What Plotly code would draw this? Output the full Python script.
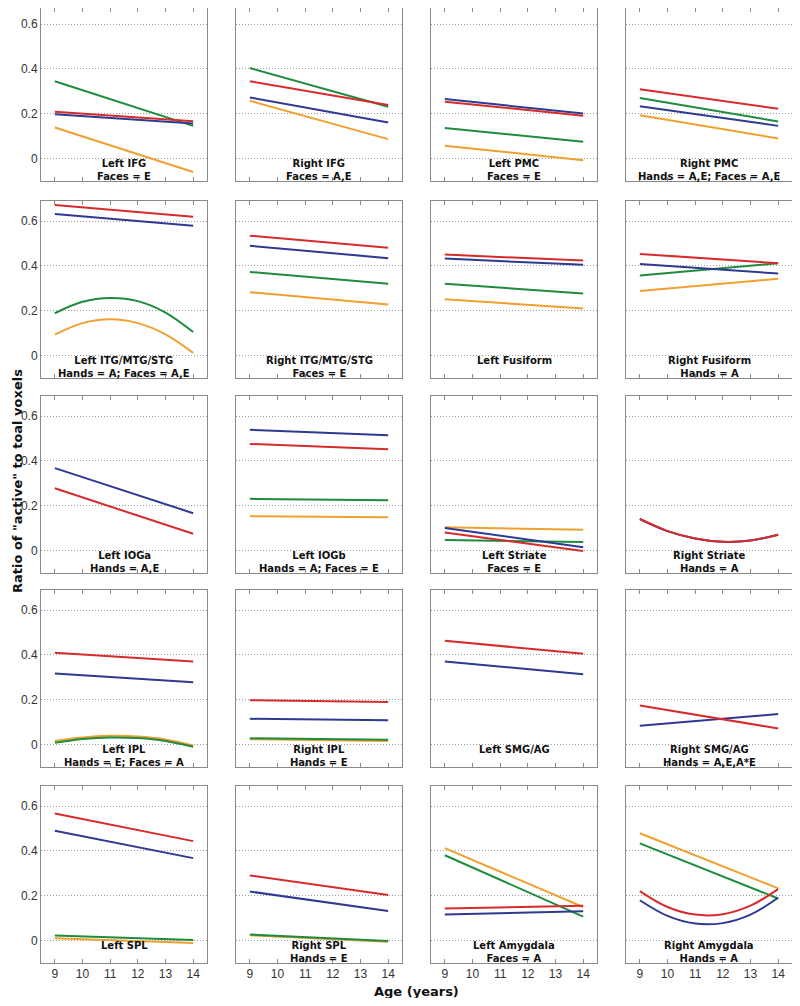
import plotly.graph_objects as go
from plotly.subplots import make_subplots

AGES = [9, 10, 11, 12, 13, 14]

REGIONS = [
    "Left IFG", "Right IFG", "Left PMC", "Right PMC",
    "Left ITG/MTG/STG", "Right ITG/MTG/STG", "Left Fusiform", "Right Fusiform",
    "Left IOGa", "Left IOGb", "Left Striate", "Right Striate",
    "Left IPL", "Right IPL", "Left SMG/AG", "Right SMG/AG",
    "Left SPL", "Right SPL", "Left Amygdala", "Right Amygdala",
]
EFFECTS = [
    "Faces = E", "Faces = A,E", "Faces = E", "Hands = A,E; Faces = A,E",
    "Hands = A; Faces = A,E", "Faces = E", "", "Hands = A",
    "Hands = A,E", "Hands = A; Faces = E", "Faces = E", "Hands = A",
    "Hands = E; Faces = A", "Hands = E", "", "Hands = A,E,A*E",
    "", "Hands = E", "Faces = A", "Hands = A",
]

RED = [
    [0.209, 0.167], [0.345, 0.239], [0.254, 0.191], [0.309, 0.222],
    [0.672, 0.620], [0.535, 0.481], [0.451, 0.424], [0.454, 0.412],
    [0.278, 0.075], [0.476, 0.452], [0.081, -0.002], [0.141, 0.087, 0.054, 0.039, 0.045, 0.071],
    [0.410, 0.371], [0.198, 0.190], [0.463, 0.406], [0.174, 0.072],
    [0.567, 0.444], [0.291, 0.204], [0.143, 0.156], [0.221, 0.150, 0.116, 0.118, 0.156, 0.230],
]
BLUE = [
    [0.198, 0.157], [0.273, 0.161], [0.266, 0.201], [0.234, 0.146],
    [0.632, 0.579], [0.490, 0.435], [0.433, 0.405], [0.409, 0.366],
    [0.368, 0.167], [0.539, 0.515], [0.101, 0.015], [0.141, 0.087, 0.054, 0.039, 0.045, 0.071],
    [0.317, 0.278], [0.115, 0.109], [0.371, 0.314], [0.084, 0.136],
    [0.490, 0.368], [0.219, 0.132], [0.117, 0.131], [0.180, 0.110, 0.076, 0.078, 0.116, 0.191],
]
GREEN = [
    [0.345, 0.146], [0.404, 0.231], [0.136, 0.075], [0.270, 0.166],
    [0.189, 0.240, 0.257, 0.243, 0.192, 0.105], [0.373, 0.321], [0.321, 0.277], [0.357, 0.412],
    None, [0.231, 0.225], [0.047, 0.038], None,
    [0.008, 0.025, 0.032, 0.029, 0.016, -0.010], [0.028, 0.022], None, None,
    [0.023, 0.003], [0.027, -0.002], [0.381, 0.107], [0.434, 0.188],
]
ORANGE = [
    [0.139, -0.060], [0.258, 0.087], [0.057, -0.007], [0.193, 0.090],
    [0.094, 0.145, 0.162, 0.145, 0.095, 0.012], [0.283, 0.228], [0.252, 0.210], [0.288, 0.343],
    None, [0.153, 0.149], [0.104, 0.093], None,
    [0.016, 0.032, 0.039, 0.036, 0.023, -0.004], [0.024, 0.016], None, None,
    [0.011, -0.011], [0.024, -0.005], [0.413, 0.150], [0.479, 0.233],
]

SERIES = [(ORANGE, "#f0a030"), (GREEN, "#1e8c3c"), (BLUE, "#2e3a92"), (RED, "#d62b2b")]

# panel boxes in page pixels; the html body adds an 8px margin, so subtract it
COL_PX = [(41, 207), (236, 402), (431, 597), (626, 792)]
ROW_PX = [(8, 181), (201, 378), (396, 573), (590, 767), (786, 963)]
Y_TOP = [0.672, 0.69, 0.69, 0.69, 0.69]  # first row is clipped by the page margin
OFF = 8
W, H = 792, 990


def px(p, size):
    return (p - OFF) / size


fig = make_subplots(rows=5, cols=4)

for i, name in enumerate(REGIONS):
    r, c = i // 4 + 1, i % 4 + 1
    for data, color in SERIES:
        vals = data[i]
        if vals is None:
            continue
        xs = AGES if len(vals) == len(AGES) else [AGES[0], AGES[-1]]
        fig.add_trace(
            go.Scatter(x=xs, y=vals, mode="lines", line=dict(color=color, width=2, shape="spline"),
                       showlegend=False, hoverinfo="skip"),
            row=r, col=c,
        )
    label = f"<b>{name}</b>"
    if EFFECTS[i]:
        label += f"<br><b>{EFFECTS[i]}</b>"
    fig.add_annotation(
        x=11.5, y=0.0, xref=f"x{i + 1}", yref=f"y{i + 1}", text=label, showarrow=False,
        yanchor="top", xanchor="center", yshift=3,
        font=dict(family="DejaVu Sans", size=10, color="#111"),
    )

for i in range(20):
    r, c = i // 4, i % 4
    x0, x1 = COL_PX[c]
    yt, yb = ROW_PX[r]
    fig.update_layout({
        f"xaxis{i + 1}": dict(
            domain=[px(x0, W), px(x1, W)], range=[8.5, 14.5], tickvals=AGES,
            showticklabels=(r == 4), showgrid=False, zeroline=False,
            showline=True, linecolor="#8a8a8a", linewidth=1, mirror="allticks",
            ticks="inside", ticklen=4, tickcolor="#8a8a8a",
            tickfont=dict(family="Liberation Sans", size=12, color="#333"),
        ),
        f"yaxis{i + 1}": dict(
            domain=[1 - px(yb, H), 1 - px(yt, H)], range=[-0.1, Y_TOP[r]], tickvals=[0, 0.2, 0.4, 0.6],
            ticktext=["0", "0.2", "0.4", "0.6"],
            showticklabels=(c == 0), zeroline=False,
            showgrid=True, gridcolor="#9a9a9a", griddash="1px,2px", gridwidth=1,
            showline=True, linecolor="#8a8a8a", linewidth=1, mirror=True, ticks="",
            tickfont=dict(family="Liberation Sans", size=12, color="#333"),
        ),
    })

fig.add_annotation(
    x=px(17, W), y=1 - px(481, H), xref="paper", yref="paper", text='<b>Ratio of "active" to toal voxels</b>',
    xanchor="center", yanchor="middle",
    textangle=-90, showarrow=False, font=dict(family="DejaVu Sans", size=13, color="#111"),
)
fig.add_annotation(
    x=px(416, W), y=1 - px(991, H), xref="paper", yref="paper", text="<b>Age (years)</b>",
    xanchor="center", yanchor="middle",
    showarrow=False, font=dict(family="DejaVu Sans", size=13, color="#111"),
)

fig.update_layout(
    width=W, height=H, margin=dict(l=0, r=0, t=0, b=0),
    plot_bgcolor="white", paper_bgcolor="white", showlegend=False,
)

fig.write_html("out.html")
